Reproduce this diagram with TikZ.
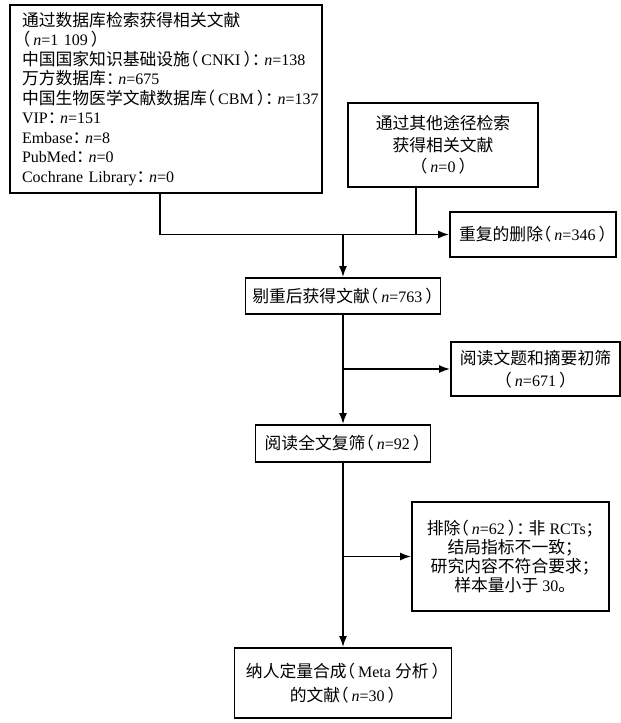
\documentclass[tikz,border=0pt]{standalone}
\usepackage{fontspec}
\setmainfont{Liberation Serif}
\newfontfamily\cjk[Scale=1.05,RawFeature={+halt}]{Noto Sans CJK SC}
\newcommand{\zh}[1]{{\cjk #1}}
\newcommand{\lp}{{\cjk （}\hspace{3pt}}
\newcommand{\rp}{\hspace{3pt}{\cjk ）}}
\newcommand{\cl}{{\cjk ：}\hspace{4pt}}
\usetikzlibrary{arrows.meta,positioning}

\begin{document}
\begin{tikzpicture}[x=1pt,y=-1pt,>={Latex[length=11pt,width=8pt]},
  box/.style={draw,line width=1.8pt,inner sep=0pt,align=center,
    font=\fontsize{16}{20}\selectfont},
  flow/.style={line width=1.7pt}]
  \useasboundingbox (0,0) rectangle (621,723);
  % sources
  \node[box,minimum width=312pt,minimum height=188pt,text width=288pt,align=left,
    font=\fontsize{16}{19.5}\selectfont] (db) at (166,99) {%
    \zh{通过数据库检索获得相关文献}\\
    \lp\textit{n}=1 109\rp\\
    \mbox{\zh{中国国家知识基础设施}\lp CNKI\rp\cl\textit{n}=138}\\
    \zh{万方数据库}\cl\textit{n}=675\\
    \mbox{\zh{中国生物医学文献数据库}\lp CBM\rp\cl\textit{n}=137}\\
    VIP\cl\textit{n}=151\\
    Embase\cl\textit{n}=8\\
    PubMed\cl\textit{n}=0\\
    Cochrane Library\cl\textit{n}=0};
  \node[box,minimum width=190pt,minimum height=84pt,font=\fontsize{16}{21.5}\selectfont] (other) at (443,145) {%
    \zh{通过其他途径检索}\\\zh{获得相关文献}\\\lp\textit{n}=0\rp};
  \node[box,minimum width=166pt,minimum height=45pt] (dup) at (533,234.5) {\zh{重复的删除}\lp\textit{n}=346\rp};
  % screening
  \node[box,minimum width=195pt,minimum height=36pt] (dedup) at (343,296) {\zh{剔重后获得文献}\lp\textit{n}=763\rp};
  \node[box,minimum width=169pt,minimum height=54pt,font=\fontsize{16}{22}\selectfont] (screen) at (535.5,369) {%
    \zh{阅读文题和摘要初筛}\\\lp\textit{n}=671\rp};
  \node[box,minimum width=175pt,minimum height=37pt] (full) at (343,443.5) {\zh{阅读全文复筛}\lp\textit{n}=92\rp};
  \node[box,minimum width=197pt,minimum height=109pt,font=\fontsize{16}{19}\selectfont] (excl) at (510.5,556.5) {%
    \zh{排除}\lp\textit{n}=62\rp\cl\zh{非} RCTs\zh{；}\\
    \zh{结局指标不一致；}\\
    \zh{研究内容不符合要求；}\\
    \zh{样本量小于} 30\zh{。}};
  \node[box,minimum width=217pt,minimum height=70pt,font=\fontsize{16}{24}\selectfont] (final) at (343,683) {%
    \zh{纳人定量合成}\lp Meta \zh{分析}\rp\\\zh{的文献}\lp\textit{n}=30\rp};
  % connectors
  \draw[flow,->] ([xshift=-6pt]db.south) |- (dup.west);
  \draw[flow] ([xshift=-27pt]other.south) -- ([xshift=-27pt]other.south |- dup.west);
  \draw[flow,->] (dedup.north |- dup.west) -- (dedup.north);
  \draw[flow,->] (dedup.south) -- (full.north);
  \draw[flow,->] (dedup.south |- screen.west) -- (screen.west);
  \draw[flow,->] (full.south) -- (final.north);
  \draw[flow,->] (full.south |- excl.west) -- (excl.west);
\end{tikzpicture}
\end{document}
